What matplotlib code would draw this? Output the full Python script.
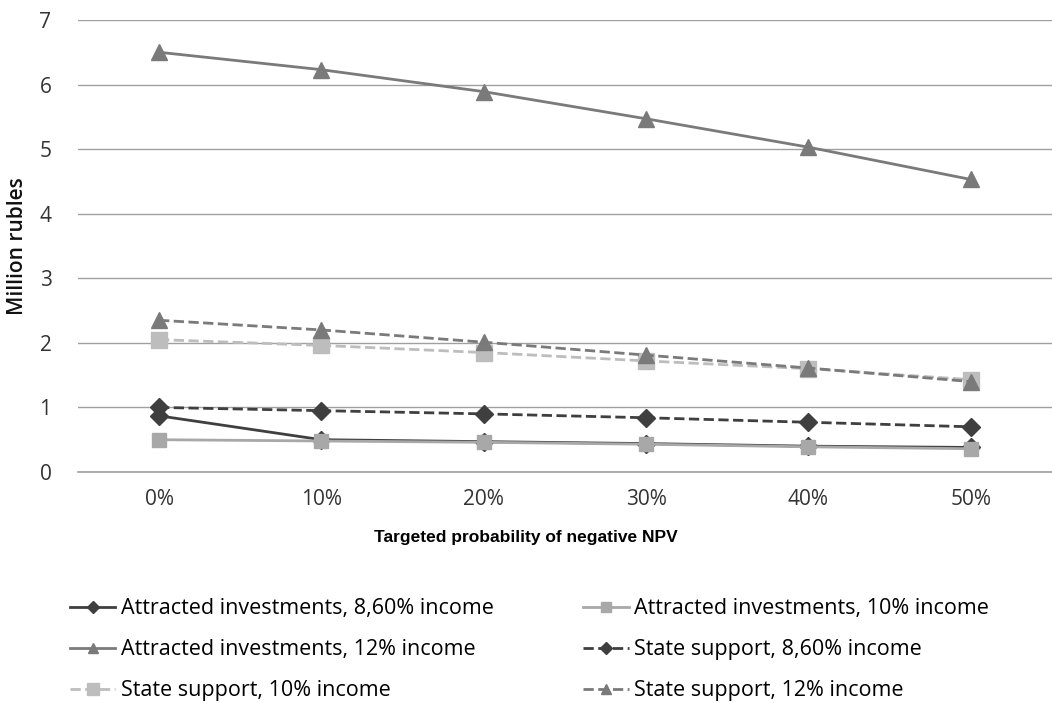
import numpy as np
import matplotlib
matplotlib.use("Agg")
from matplotlib import pyplot as plt

plt.rcParams['font.family'] = ['Open Sans', 'DejaVu Sans']

probability = ['0%', '10%', '20%', '30%', '40%', '50%']

attracted_86 = [0.87, 0.50, 0.47, 0.44, 0.40, 0.38]
attracted_10 = [0.50, 0.48, 0.46, 0.43, 0.39, 0.36]
attracted_12 = [6.50, 6.23, 5.89, 5.47, 5.03, 4.53]
state_86 = [1.00, 0.95, 0.90, 0.84, 0.77, 0.70]
state_10 = [2.05, 1.96, 1.85, 1.72, 1.60, 1.43]
state_12 = [2.35, 2.20, 2.01, 1.81, 1.61, 1.40]

x = np.arange(len(probability))

fig = plt.figure(figsize=(10.52, 7.03), dpi=100)
ax = fig.add_axes([0.074, 0.3286, 0.926, 0.643])

dark = '#3f3f3f'
mid = '#7a7a7a'
light = '#a8a8a8'
lighter = '#bdbdbd'

l1, = ax.plot(x, attracted_86, '-', color=dark, lw=2, marker='D', ms=9,
              label='Attracted investments, 8,60% income')
l2, = ax.plot(x, attracted_10, '-', color=light, lw=2, marker='s', ms=10,
              label='Attracted investments, 10% income')
l3, = ax.plot(x, attracted_12, '-', color=mid, lw=2, marker='^', ms=11,
              label='Attracted investments, 12% income')
l4, = ax.plot(x, state_86, '--', color=dark, lw=2, marker='D', ms=9,
              label='State support, 8,60% income')
l5, = ax.plot(x, state_10, '--', color=lighter, lw=2, marker='s', ms=12,
              label='State support, 10% income')
l6, = ax.plot(x, state_12, '--', color=mid, lw=2, marker='^', ms=11,
              label='State support, 12% income')

ax.set_xlim(-0.5, 5.5)
ax.set_ylim(0, 7)
ax.set_yticks(range(8))
ax.set_xticks(x)
ax.set_xticklabels(probability)
ax.grid(axis='y', color='#a0a0a0', lw=1)
ax.axhline(0, color='#a0a0a0', lw=1.2, clip_on=False, zorder=0)
ax.set_axisbelow(True)
for s in ax.spines.values():
    s.set_visible(False)
ax.tick_params(length=0, labelsize=15, colors='#333333')
ax.tick_params(axis='x', pad=12)
ax.tick_params(axis='y', pad=19)

ax.set_ylabel('Million rubles', fontsize=15, fontweight='semibold',
              color='#111111', labelpad=8)
ax.set_xlabel('Targeted probability of negative NPV', fontsize=12.5,
              fontweight='bold', family=['Liberation Sans', 'DejaVu Sans'])
# axis title sits at the middle of the figure, not of the plot area
ax.xaxis.set_label_coords(0.46, -0.128)

# legend rows read left to right, matplotlib fills columns first
handles = [l1, l3, l5, l2, l4, l6]
fig.legend(handles=handles, labels=[h.get_label() for h in handles],
           ncol=2, loc='upper left', bbox_to_anchor=(0.0665, 0.149),
           frameon=False, fontsize=15.5, handlelength=2.1, handletextpad=0.25,
           columnspacing=4.18, labelspacing=0.93, markerscale=0.7,
           borderpad=0, borderaxespad=0)

fig.savefig('out.png', dpi=100)
